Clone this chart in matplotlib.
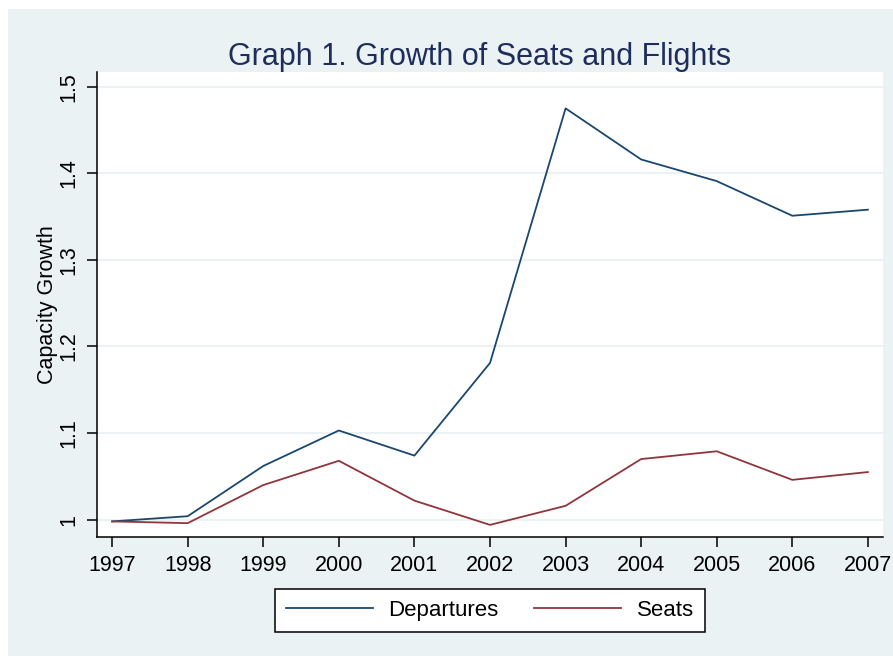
# %%
import numpy as np
import matplotlib.pyplot as plt
from matplotlib.patches import Rectangle

plt.rcParams['font.family'] = ['Liberation Sans', 'DejaVu Sans']

# 数据
years = [1997, 1998, 1999, 2000, 2001, 2002, 2003, 2004, 2005, 2006, 2007]
departures = [0.998, 1.004, 1.062, 1.103, 1.074, 1.181, 1.475, 1.416, 1.391, 1.351, 1.358]
seats = [0.998, 0.996, 1.040, 1.068, 1.022, 0.994, 1.016, 1.070, 1.079, 1.046, 1.055]
yticks = [1, 1.1, 1.2, 1.3, 1.4, 1.5]
ytick_labels = ['1', '1.1', '1.2', '1.3', '1.4', '1.5']

bg = '#EAF2F3'

# %%
fig = plt.figure(figsize=(8.93, 6.56), dpi=100)
fig.patch.set_facecolor('white')
# Stata-style background (white strip at top/left)
fig.patches.append(Rectangle((8 / 893, 0), 1, 1 - 9 / 656, transform=fig.transFigure,
                             facecolor=bg, edgecolor='none', zorder=-10))

ax = fig.add_axes([97 / 893, (656 - 537) / 656, (883 - 97) / 893, (537 - 72) / 656])
ax.set_facecolor('white')

ax.plot(years, departures, color='#1A476F', lw=1.3, label='Departures')
ax.plot(years, seats, color='#90353B', lw=1.3, label='Seats')

ax.set_xlim(1996.8, 2007.2)
ax.set_ylim(0.980, 1.517)
ax.set_xticks(years)
ax.set_xticklabels([str(y) for y in years], fontsize=15.5)
ax.set_yticks(yticks)
ax.set_yticklabels(ytick_labels, fontsize=15.5, rotation=90, va='center')
ax.tick_params(length=7, width=1.1, color='black', pad=6)
ax.grid(axis='y', color=bg, lw=1.5)
ax.set_axisbelow(True)

for s in ['top', 'right']:
    ax.spines[s].set_visible(False)
for s in ['left', 'bottom']:
    ax.spines[s].set_linewidth(1.1)

ax.set_ylabel('Capacity Growth', fontsize=15.5, labelpad=0)
ax.set_title('Graph 1. Growth of Seats and Flights', fontsize=22, color='#1E2D5B',
             pad=5, x=0.4866)

leg = ax.legend(loc='upper center', bbox_to_anchor=(0.5, -0.1118), ncol=2, fontsize=16,
                frameon=True, fancybox=False, edgecolor='black', framealpha=1,
                handlelength=3.9, handletextpad=0.7, columnspacing=1.6,
                borderpad=0.5, borderaxespad=0)
leg.get_frame().set_linewidth(1.1)

plt.savefig('out.png', dpi=100, facecolor=fig.get_facecolor())
